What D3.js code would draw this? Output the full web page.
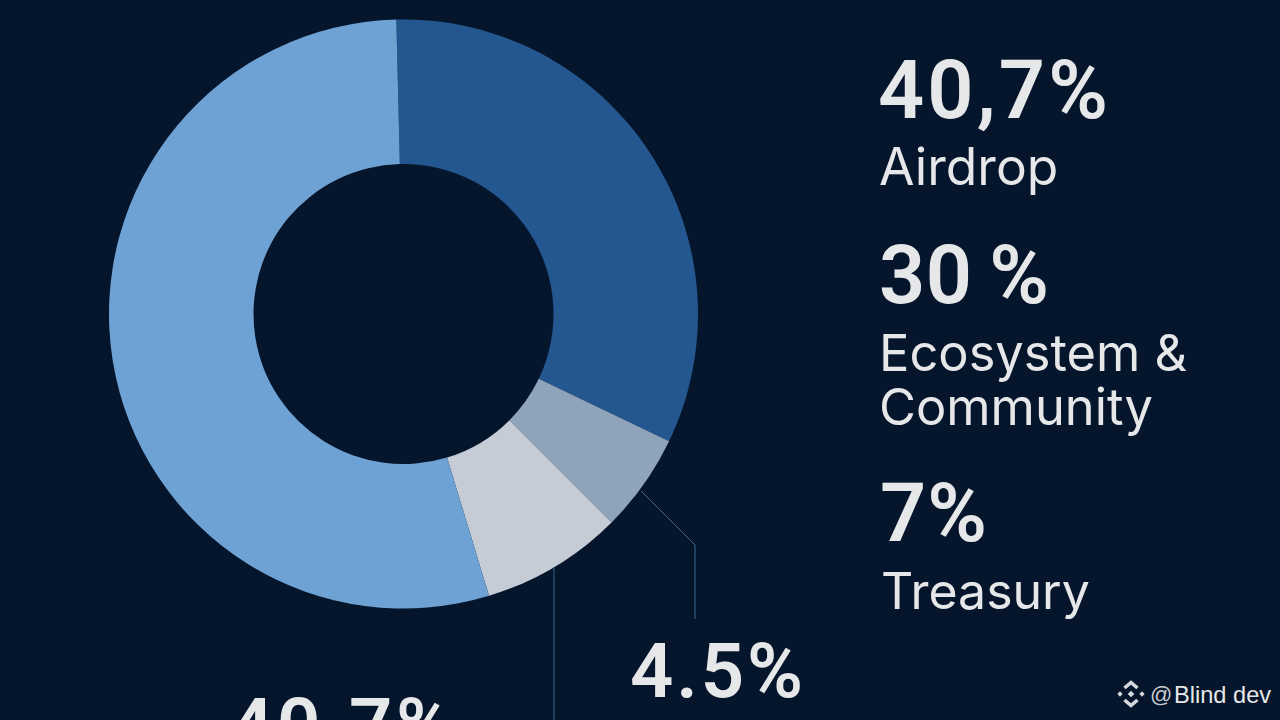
<!DOCTYPE html>
<html>
<head>
<meta charset="utf-8">
<script src="https://cdn.jsdelivr.net/npm/d3@7"></script>
<style>
  html, body { margin: 0; padding: 0; background: #05152b; }
  svg { display: block; }
  text { fill: #e6e7e8; }
</style>
</head>
<body>
<div id="chart"></div>
<script>
// shares are what the ring shows on screen, the printed labels don't add up to them
const SLICE_NAMES = ['Ecosystem & Community', 'Reserve', 'Treasury', 'Airdrop'];
const SLICE_SHARES = [32.5, 5.4, 7.8, 54.3];
const SLICE_COLORS = ['#24568f', '#8fa4bb', '#c5ccd6', '#6ea2d4'];

const BIG_LABELS = ['40,7%', '30\u2009%', '7%', '4.5%', '40.7%'];
const SMALL_LABELS = ['Airdrop', 'Ecosystem &', 'Community', 'Treasury'];

const width = 1280;
const height = 720;
const cx = 403.5;
const cy = 314;
const outerRadius = 294.5;
const innerRadius = 150;
const degreesToRadians = degrees => (degrees * Math.PI) / 180;

const svg = d3
  .select('#chart')
  .append('svg')
  .attr('width', width)
  .attr('height', height)
  .attr('viewBox', `0 0 ${width} ${height}`);

svg.append('rect').attr('width', width).attr('height', height).attr('fill', '#05152b');

const pie = d3
  .pie()
  .sort(null)
  .startAngle(degreesToRadians(-1.4))
  .endAngle(degreesToRadians(358.6));

const arc = d3.arc().innerRadius(innerRadius).outerRadius(outerRadius);

svg
  .append('g')
  .attr('transform', `translate(${cx},${cy})`)
  .selectAll('path')
  .data(pie(SLICE_SHARES))
  .enter()
  .append('path')
  .attr('d', arc)
  .attr('fill', (d, i) => SLICE_COLORS[i]);

// leader lines
const line = d3.line();
const leaders = [
  [[641, 491], [695, 545], [695, 619]],
  [[554, 568], [554, 720]],
];
svg
  .selectAll('path.leader')
  .data(leaders)
  .enter()
  .append('path')
  .attr('class', 'leader')
  .attr('d', line)
  .attr('fill', 'none')
  .attr('stroke', '#3f6791')
  .attr('stroke-width', 1);

// textLength opens the spacing up to the width the original has
const bigText = (label, x, y, size, fitWidth) =>
  svg
    .append('text')
    .attr('x', x)
    .attr('y', y)
    .attr('font-size', size)
    .attr('font-family', 'Roboto')
    .attr('font-weight', 600)
    .attr('textLength', fitWidth)
    .attr('lengthAdjust', 'spacing')
    .text(label);

const smallText = (label, x, y, size) =>
  svg
    .append('text')
    .attr('x', x)
    .attr('y', y)
    .attr('font-size', size)
    .attr('font-family', 'Inter')
    .attr('font-weight', 400)
    .text(label);

bigText(BIG_LABELS[0], 878, 118, 81, 230);
smallText(SMALL_LABELS[0], 879, 185, 51.5);
bigText(BIG_LABELS[1], 879, 303, 81, 170);
smallText(SMALL_LABELS[1], 879, 371, 50.6);
smallText(SMALL_LABELS[2], 879, 425, 50.6);
bigText(BIG_LABELS[2], 880, 541, 81, 107);
smallText(SMALL_LABELS[3], 881, 609, 50);
bigText(BIG_LABELS[3], 630, 697, 76, 173);
bigText(BIG_LABELS[4], 230, 752, 76, 222);

// watermark
const mark = svg.append('g').attr('transform', 'translate(1131,694)');
const diamond = d3.symbol().type(d3.symbolSquare);
mark.append('path').attr('d', diamond.size(22)()).attr('fill', '#d5d8dc').attr('transform', 'rotate(45)');
[[-11, 0], [11, 0]].forEach(([x, y]) =>
  mark
    .append('path')
    .attr('d', diamond.size(14)())
    .attr('fill', '#d5d8dc')
    .attr('transform', `translate(${x},${y}) rotate(45)`)
);
[1, -1].forEach(dir =>
  mark
    .append('path')
    .attr('d', line([[-6.5, dir * 6], [0, dir * 11.5], [6.5, dir * 6]]))
    .attr('fill', 'none')
    .attr('stroke', '#d5d8dc')
    .attr('stroke-width', 3.6)
);
svg
  .append('text')
  .attr('x', 1150)
  .attr('y', 702)
  .attr('font-size', 22)
  .attr('font-family', 'Liberation Sans')
  .style('fill', '#c9ccd1')
  .text('@');
svg
  .append('text')
  .attr('x', 1174)
  .attr('y', 703)
  .attr('font-size', 23.6)
  .attr('font-family', 'Liberation Sans')
  .text('Blind dev');
</script>
</body>
</html>
